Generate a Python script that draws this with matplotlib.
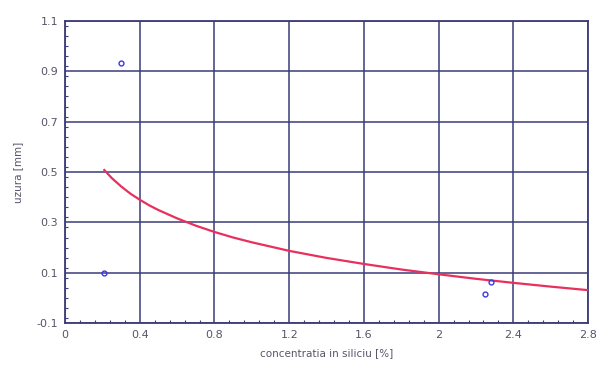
import numpy as np
import matplotlib
matplotlib.use('Agg')
import matplotlib.pyplot as plt
from matplotlib.ticker import MultipleLocator, FuncFormatter

# measured points
si_pts = [0.21, 0.30, 2.25, 2.28]
wear_pts = [0.098, 0.932, 0.016, 0.063]

# fitted curve
si_fit = [0.21, 0.25, 0.3, 0.35, 0.4, 0.45, 0.5, 0.6, 0.7, 0.8, 0.9, 1.0, 1.2, 1.4,
          1.6, 1.8, 2.0, 2.2, 2.4, 2.6, 2.8]
wear_fit = [0.508, 0.476, 0.443, 0.414, 0.390, 0.368, 0.349, 0.316, 0.287, 0.262,
            0.240, 0.221, 0.187, 0.159, 0.135, 0.113, 0.094, 0.076, 0.060, 0.045, 0.031]

y_ticks = [-0.1, 0.1, 0.3, 0.5, 0.7, 0.9, 1.1]
x_ticks = [0, 0.4, 0.8, 1.2, 1.6, 2.0, 2.4, 2.8]

grid_col = '#3c3c78'
text_col = '#55556a'

fig = plt.figure(figsize=(5.97, 3.74), dpi=100)
ax = fig.add_axes([0.109, 0.136, 0.876, 0.808])

ax.plot(si_fit, wear_fit, color='#e8305c', lw=1.6, zorder=3)
ax.plot(si_pts, wear_pts, 'o', ms=3.5, mfc='none', mec='#3a3ae0', mew=1.0, zorder=4)

ax.set_xlim(0, 2.8)
ax.set_ylim(-0.1, 1.1)
ax.set_xticks(x_ticks)
ax.set_yticks(y_ticks)
ax.xaxis.set_minor_locator(MultipleLocator(0.08))
ax.yaxis.set_minor_locator(MultipleLocator(0.04))
ax.xaxis.set_major_formatter(FuncFormatter(lambda v, p: '%g' % round(v, 1)))
ax.yaxis.set_major_formatter(FuncFormatter(lambda v, p: '%g' % round(v, 1)))

ax.grid(True, which='major', color=grid_col, lw=1.1)
for s in ax.spines.values():
    s.set_color(grid_col)
    s.set_linewidth(1.3)
ax.tick_params(which='major', direction='in', length=0, colors=text_col, labelsize=8, pad=5)
ax.tick_params(which='minor', direction='in', length=2.5, color=grid_col, width=0.8)
ax.tick_params(axis='both', which='both', top=False, right=False)

ax.set_xlabel('concentratia in siliciu [%]', fontsize=7.5, color=text_col, labelpad=6)
ax.set_ylabel('uzura [mm]', fontsize=7.5, color=text_col, labelpad=10)

fig.savefig('out.png', dpi=100)
